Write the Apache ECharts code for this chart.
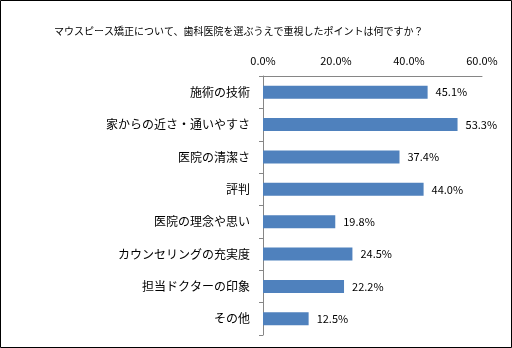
<!DOCTYPE html>
<html><head><meta charset="utf-8">
<script src="https://cdn.jsdelivr.net/npm/echarts@6/dist/echarts.min.js"></script>
<style>html,body{margin:0;padding:0;background:#fff}#c{width:512px;height:348px}</style>
</head><body><div id="c"></div>
<script>
var title = 'マウスピース矯正について、歯科医院を選ぶうえで重視したポイントは何ですか？';
var categories = ['施術の技術','家からの近さ・通いやすさ','医院の清潔さ','評判','医院の理念や思い','カウンセリングの充実度','担当ドクターの印象','その他'];
var values = [45.1, 53.3, 37.4, 44.0, 19.8, 24.5, 22.2, 12.5];
var axisMin = 0, axisMax = 60, axisStep = 20;

var font = '"Noto Sans CJK JP", "Noto Sans", sans-serif';
var chart = echarts.init(document.getElementById('c'), null, {renderer:'canvas'});
chart.setOption({
  animation: false,
  backgroundColor: '#fff',
  title: {text: title, left: 49, top: 21, textStyle: {fontSize: 10, fontWeight: 'normal', color: '#000', fontFamily: font}},
  grid: {left: 263, right: 30, top: 76, bottom: 13, containLabel: false},
  xAxis: {
    type: 'value', position: 'top', min: axisMin, max: axisMax, interval: axisStep,
    axisLine: {show: true, lineStyle: {color: '#868686', width: 1}},
    axisTick: {show: false},
    splitLine: {show: false},
    axisLabel: {color: '#000', fontSize: 11, fontFamily: font, margin: 10, formatter: function(v){return v.toFixed(1)+'%';}}
  },
  yAxis: {
    type: 'category', inverse: true, data: categories,
    axisLine: {show: true, lineStyle: {color: '#868686', width: 1}},
    axisTick: {show: true, length: 4, lineStyle: {color: '#868686'}},
    axisLabel: {color: '#000', fontSize: 12, fontFamily: font, margin: 13}
  },
  series: [{
    type: 'bar', data: values, barWidth: 13,
    itemStyle: {color: '#4F81BD'},
    label: {show: true, position: 'right', distance: 8, color: '#000', fontSize: 11, fontFamily: font,
      formatter: function(p){return p.value.toFixed(1)+'%';}}
  }],
  graphic: [{type: 'rect', shape: {x: 0.5, y: 0.5, width: 511, height: 347}, style: {fill: 'none', stroke: '#000', lineWidth: 1}, silent: true}]
});
</script></body></html>
